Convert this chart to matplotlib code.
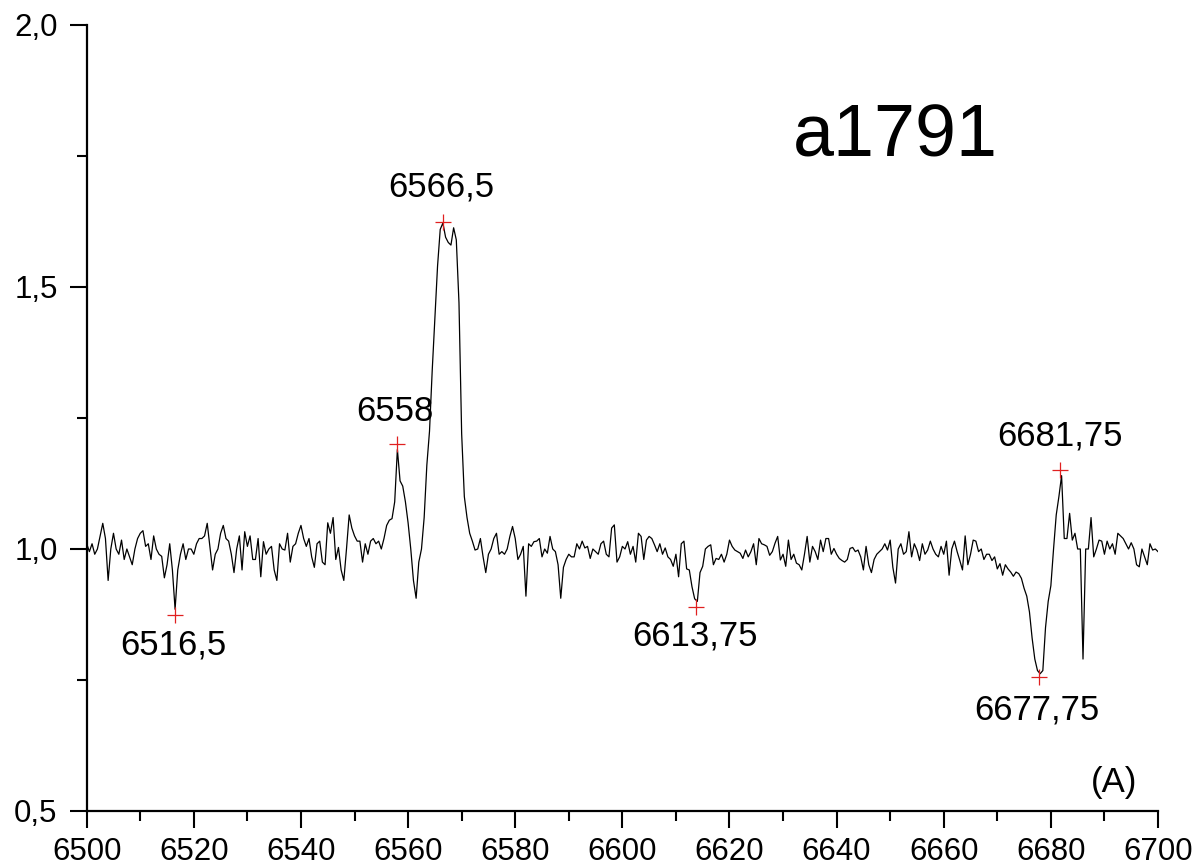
import numpy as np
import matplotlib
matplotlib.use("Agg")
import matplotlib.pyplot as plt
from matplotlib.ticker import MultipleLocator, FuncFormatter

plt.rcParams['font.family'] = ['Liberation Sans', 'DejaVu Sans']

# ---- data -------------------------------------------------------------
WL_START = 6500.0
WL_STEP = 0.5
flux = [
    1.01, 0.995, 1.01, 0.99, 1.00, 1.024, 1.049, 1.02, 0.94, 1.00,
    1.03, 1.00, 0.99, 1.017, 0.98, 1.00, 0.985, 0.97, 1.00, 1.02,
    1.03, 1.035, 1.005, 1.01, 0.98, 1.025, 1.00, 0.99, 0.986, 0.945,
    0.97, 1.01, 0.96, 0.885, 0.96, 0.99, 1.01, 0.98, 1.00, 1.00,
    0.99, 1.01, 1.02, 1.02, 1.025, 1.049, 1.005, 0.96, 0.99, 1.00,
    1.03, 1.045, 1.02, 1.015, 0.99, 0.955, 1.00, 1.025, 0.96, 1.033,
    1.005, 1.025, 0.98, 0.98, 1.02, 0.947, 1.014, 0.99, 1.00, 1.005,
    0.96, 0.94, 1.01, 1.00, 0.998, 1.03, 0.975, 1.005, 1.01, 1.03,
    1.045, 1.02, 1.005, 1.02, 0.985, 0.965, 1.01, 1.015, 0.975, 0.97,
    1.05, 1.03, 1.06, 0.98, 1.003, 0.96, 0.94, 1.00, 1.065, 1.04,
    1.025, 1.015, 1.015, 0.975, 1.01, 0.99, 1.015, 1.02, 1.01, 1.015,
    1.00, 1.02, 1.045, 1.055, 1.058, 1.09, 1.19, 1.13, 1.12, 1.09,
    1.05, 1.00, 0.94, 0.906, 0.975, 1.00, 1.06, 1.16, 1.225, 1.34,
    1.44, 1.54, 1.61, 1.622, 1.595, 1.585, 1.58, 1.613, 1.59, 1.47,
    1.22, 1.10, 1.06, 1.03, 1.015, 0.998, 1.00, 1.02, 0.985, 0.955,
    0.99, 1.00, 1.02, 1.03, 0.99, 0.995, 0.99, 1.00, 1.024, 1.043,
    1.02, 0.98, 0.99, 1.005, 0.91, 1.01, 1.005, 1.014, 1.015, 1.02,
    0.985, 1.00, 0.992, 1.024, 1.00, 0.995, 0.97, 0.906, 0.965, 0.98,
    0.99, 0.985, 0.985, 1.01, 1.00, 1.015, 1.002, 1.005, 0.982, 1.00,
    0.995, 0.99, 1.01, 1.015, 0.99, 0.985, 1.04, 1.046, 0.975, 0.985,
    1.005, 1.00, 1.014, 0.99, 1.005, 0.975, 1.03, 1.024, 0.98, 1.017,
    1.024, 1.02, 1.008, 0.995, 1.01, 0.99, 1.002, 0.985, 0.98, 0.967,
    0.99, 0.947, 1.01, 1.015, 0.962, 0.96, 0.928, 0.905, 0.90, 0.955,
    0.967, 1.00, 1.005, 1.008, 0.97, 0.982, 0.98, 0.99, 0.975, 0.99,
    1.017, 1.005, 0.998, 0.995, 0.992, 0.982, 0.998, 0.985, 0.995, 1.01,
    0.97, 1.02, 1.01, 1.008, 1.005, 0.988, 0.995, 1.011, 1.024, 0.979,
    0.99, 0.967, 1.017, 0.98, 0.99, 0.973, 0.97, 0.96, 0.99, 1.024,
    0.975, 1.005, 0.995, 0.98, 1.017, 0.995, 1.02, 1.02, 0.99, 1.001,
    0.99, 0.982, 0.978, 0.975, 0.98, 1.001, 1.003, 0.995, 0.998, 0.985,
    0.96, 1.005, 0.97, 0.955, 0.98, 0.99, 0.995, 1.00, 1.01, 0.998,
    1.017, 0.965, 0.935, 1.00, 1.01, 0.99, 0.995, 1.033, 0.985, 1.01,
    0.998, 0.978, 1.01, 0.99, 0.998, 1.015, 1.00, 0.99, 0.985, 1.005,
    0.99, 1.015, 0.95, 1.00, 1.015, 0.995, 0.978, 0.96, 1.025, 0.97,
    0.99, 1.017, 1.015, 0.995, 1.00, 0.98, 0.99, 0.99, 0.978, 0.985,
    0.962, 0.972, 0.95, 0.97, 0.962, 0.956, 0.948, 0.956, 0.953, 0.944,
    0.925, 0.91, 0.88, 0.83, 0.79, 0.768, 0.762, 0.768, 0.85, 0.90,
    0.93, 1.00, 1.065, 1.10, 1.14, 1.02, 1.02, 1.068, 1.017, 1.03,
    1.00, 1.00, 0.79, 1.00, 1.00, 1.06, 0.985, 1.00, 1.017, 1.015,
    0.99, 1.015, 1.00, 1.01, 0.99, 1.03, 1.025, 1.02, 1.01, 1.00,
    1.012, 1.00, 0.97, 0.966, 1.00, 0.985, 0.97, 1.01, 0.998, 1.00,
    0.995,
]

peak_wl = [6516.5, 6558.0, 6566.5, 6613.75, 6677.75, 6681.75]
peak_val = [0.875, 1.20, 1.625, 0.89, 0.755, 1.15]
peak_labels = ["6516,5", "6558", "6566,5", "6613,75", "6677,75", "6681,75"]
# label anchor positions (data units, baseline / centre)
label_x = [6516.1, 6557.55, 6566.27, 6613.6, 6677.4, 6681.7]
label_y = [0.798, 1.244, 1.672, 0.815, 0.674, 1.197]

title_text = "a1791"
unit_text = "(A)"

# ---- figure -----------------------------------------------------------
W, H, DPI = 1197, 866, 100
fig = plt.figure(figsize=(W / DPI, H / DPI), dpi=DPI)
ax = fig.add_axes([86.7 / W, 1 - 811 / H, (1158 - 86.7) / W, (811 - 25) / H])

wl = WL_START + WL_STEP * np.arange(len(flux))
ax.plot(wl, flux, color='black', lw=0.9)
ax.plot(peak_wl, peak_val, linestyle='none', marker='+', color='#e02020',
        markersize=11, markeredgewidth=0.9)

for lx, ly, t in zip(label_x, label_y, peak_labels):
    ax.text(lx, ly, t, ha='center', va='baseline', fontsize=25, color='black')

ax.text(6651.05, 1.749, title_text, ha='center', va='baseline', fontsize=53)
ax.text(6691.8, 0.536, unit_text, ha='center', va='baseline', fontsize=25)

ax.set_xlim(6500, 6700)
ax.set_ylim(0.5, 2.0)
ax.xaxis.set_major_locator(MultipleLocator(20))
ax.xaxis.set_minor_locator(MultipleLocator(10))
ax.yaxis.set_major_locator(MultipleLocator(0.5))
ax.yaxis.set_minor_locator(MultipleLocator(0.25))
ax.yaxis.set_major_formatter(FuncFormatter(lambda v, p: f"{v:.1f}".replace('.', ',')))
ax.xaxis.set_major_formatter(FuncFormatter(lambda v, p: f"{v:.0f}"))

for s in ['top', 'right']:
    ax.spines[s].set_visible(False)
for s in ['left', 'bottom']:
    ax.spines[s].set_linewidth(1.6)

ax.tick_params(which='major', direction='out', length=12, width=1.5,
               labelsize=22.5, pad=7)
ax.tick_params(which='minor', direction='out', length=7, width=1.5)
ax.tick_params(axis='y', which='major', pad=9)

fig.savefig("out.png", dpi=DPI)
